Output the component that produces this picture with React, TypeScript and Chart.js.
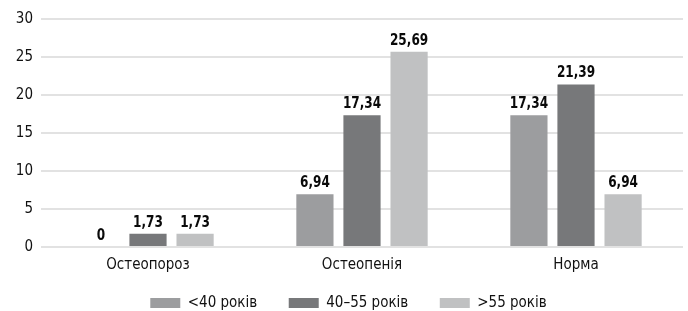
import React, { useEffect, useRef } from "react";
import { Chart, registerables } from "chart.js";

Chart.register(...registerables);

const categories = ["Остеопороз", "Остеопенія", "Норма"];
const seriesNames = ["<40 років", "40–55 років", ">55 років"];
const under40 = [0, 6.94, 17.34];
const from40to55 = [1.73, 17.34, 21.39];
const over55 = [1.73, 25.69, 6.94];
const yTicks = [0, 5, 10, 15, 20, 25, 30];
const colors = ["#9c9d9f", "#77787a", "#c0c1c2"];

const FONT = "'DejaVu Sans Condensed', 'Liberation Sans', sans-serif";

const valueLabels = {
  id: "valueLabels",
  afterDatasetsDraw(chart: any) {
    const ctx = chart.ctx;
    chart.data.datasets.forEach((ds: any, di: number) => {
      const meta = chart.getDatasetMeta(di);
      meta.data.forEach((bar: any, i: number) => {
        const v = ds.data[i];
        const txt = String(v).replace(".", ",");
        ctx.save();
        ctx.font = `bold 16px ${FONT}`;
        ctx.fillStyle = "#0a0a0a";
        ctx.textAlign = "center";
        ctx.textBaseline = "alphabetic";
        ctx.translate(bar.x, bar.y - 7);
        ctx.scale(0.84, 1);
        ctx.fillText(txt, 0, 0);
        ctx.restore();
      });
    });
  },
};

export default function App() {
  const ref = useRef<HTMLCanvasElement>(null);
  useEffect(() => {
    document.body.style.margin = "0";
    const data = [under40, from40to55, over55];
    const chart = new Chart(ref.current!, {
      type: "bar",
      data: {
        labels: categories,
        datasets: seriesNames.map((name, i) => ({
          label: name,
          data: data[i],
          backgroundColor: colors[i],
          borderWidth: 0,
          categoryPercentage: 0.66,
          barPercentage: 0.79,
        })),
      },
      plugins: [valueLabels],
      options: {
        animation: false,
        responsive: false,
        maintainAspectRatio: false,
        layout: { padding: { top: 19, right: 5, bottom: 0, left: 14 } },
        plugins: {
          tooltip: { enabled: false },
          legend: {
            position: "bottom",
            maxHeight: 47,
            labels: {
              boxWidth: 30,
              boxHeight: 10,
              padding: 31.5,
              color: "#111111",
              font: { family: FONT, size: 15 },
            },
          },
        },
        scales: {
          x: {
            grid: { display: false, drawTicks: false },
            border: { display: false },
            ticks: { color: "#111111", padding: -27, mirror: true, font: { family: FONT, size: 15 } },
            afterFit: (s: any) => { s.height = 17; },
          },
          y: {
            min: 0,
            max: 30,
            afterBuildTicks: (s: any) => { s.ticks = yTicks.map((v) => ({ value: v })); },
            grid: { color: "#e2e2e2", lineWidth: 2, drawTicks: false },
            border: { display: false },
            ticks: { color: "#111111", padding: 8, font: { family: FONT, size: 15 } },
            afterFit: (s: any) => { s.width = 27; },
          },
        },
      },
    });
    return () => chart.destroy();
  }, []);
  return (
    <div style={{ width: 688, height: 311 }}>
      <canvas ref={ref} width={688} height={311} style={{ display: "block" }} />
    </div>
  );
}
